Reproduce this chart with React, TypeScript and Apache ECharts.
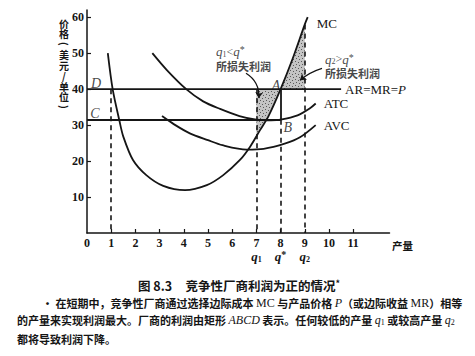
import React, { useEffect, useRef } from 'react';
import * as echarts from 'echarts';

// ---- data ----
const xTickValues = [1, 2, 3, 4, 5, 6, 7, 8, 9, 10, 11];
const xLabelValues = [0, 1, 2, 3, 4, 5, 6, 7, 8, 9, 10, 11];
const yTickValues = [10, 20, 30, 40, 50, 60];

const mcQ = [0.86, 1.06, 1.34, 1.5, 1.9, 2.45, 3.15, 4.05, 4.95, 5.63, 6.32, 6.74, 7.15, 7.5, 8, 8.5, 9, 9.12];
const mcV = [50, 40, 31.2, 26.8, 20.3, 16.1, 13.1, 11.9, 13.3, 16.1, 20.3, 24, 28.6, 32.5, 40, 48.5, 58, 60];
const atcQ = [2.7, 3.3, 4.1, 4.8, 5.5, 6.3, 7.0, 7.6, 8.0, 8.7, 9.2, 9.45];
const atcV = [50, 45.3, 40, 36.6, 34.5, 32.5, 31.5, 31.3, 31.5, 32.7, 34.6, 36];
const avcQ = [3.1, 3.6, 4.25, 5, 5.6, 6.6, 7.3, 8.2, 8.8, 9.45];
const avcV = [32.5, 30.2, 27.7, 25.8, 24.4, 23.2, 23.4, 24.9, 26.6, 30];

const price = 40; // AR = MR = P  (line D-A)
const costAtQStar = 31.5; // ATC at q*  (line C-B)
const qStar = 8;
const q1 = 7;
const q2 = 9;
const qLow = 1;
const priceLineEnd = 10.5;
const lossLeft = [[7, 40], [7, 27], [7.15, 28.6], [7.5, 32.5], [8, 40]];
const lossRight = [[8, 40], [8.5, 48.5], [9, 58], [9, 40]];

const titleText = '{b|图 8.3}    {b|竞争性厂商利润为正的情况}{sup|*}';
const captionLines = [
  '• 在短期中，竞争性厂商通过选择边际成本 {lat|MC} 与产品价格 {it|P}（或边际收益 {lat|MR}）相等',
  '的产量来实现利润最大。厂商的利润由矩形 {it|ABCD} 表示。任何较低的产量 {it|q}{sub|1} 或较高产量 {it|q}{sub|2}',
  '都将导致利润下降。',
];
const yAxisTitle = ['价', '格', '(', '美', '元', '/', '单', '位', ')'];

const SERIF = '"Liberation Serif", "Times New Roman", serif';
const CJK = '"Noto Sans CJK SC", sans-serif';
const INK = '#151515';

function makeStipple(): any {
  const c = document.createElement('canvas');
  c.width = 6;
  c.height = 6;
  const g = c.getContext('2d');
  if (!g) return '#aaaaaa';
  g.fillStyle = '#c4c4c4';
  g.fillRect(0, 0, 6, 6);
  g.fillStyle = '#5a5a5a';
  g.fillRect(1, 1, 1, 1);
  g.fillRect(4, 2, 1, 1);
  g.fillRect(2, 4, 1, 1);
  g.fillRect(5, 5, 1, 1);
  return { image: c, repeat: 'repeat' };
}

export default function App() {
  const ref = useRef<HTMLDivElement>(null);
  useEffect(() => {
    if (!ref.current) return;
    const chart = echarts.init(ref.current, null, { renderer: 'svg' });
    const stipple = makeStipple();
    const shades = [lossLeft, lossRight];
    const curveLine = { color: INK, width: 1.8 };
    const curveLabel = { fontFamily: SERIF, fontSize: 13, color: INK };

    const annoRich = {
      q: { fontFamily: SERIF, fontStyle: 'italic', fontSize: 13, color: INK, lineHeight: 14 },
      s: { fontFamily: SERIF, fontStyle: 'normal', fontSize: 8, color: INK, padding: [5, 0, 0, 0], lineHeight: 14 },
      t: { fontFamily: SERIF, fontStyle: 'normal', fontSize: 12, color: INK, lineHeight: 14 },
      u: { fontFamily: SERIF, fontStyle: 'normal', fontSize: 10, color: INK, padding: [0, 0, 4, 0], lineHeight: 14 },
      c: { fontFamily: CJK, fontStyle: 'normal', fontWeight: 'bold', fontSize: 11, color: INK, lineHeight: 14 },
    };

    const option: any = {
      animation: false,
      backgroundColor: '#ffffff',
      grid: { left: 87, top: 10, width: 302.5, height: 223 },
      xAxis: {
        type: 'value',
        min: 0,
        max: 12.5,
        interval: 1,
        splitLine: { show: false },
        axisLine: { lineStyle: { color: INK, width: 1.5 } },
        axisTick: { inside: true, length: 4, customValues: xTickValues, lineStyle: { color: INK, width: 1.2 } },
        axisLabel: {
          customValues: xLabelValues,
          margin: 3,
          color: INK,
          fontFamily: SERIF,
          fontWeight: 'bold',
          fontSize: 12,
          lineHeight: 13,
          formatter: (v: number) => {
            if (v === q1) return v + '\n{q|q}{sub|1}';
            if (v === qStar) return v + '\n{q|q}{sup|*}';
            if (v === q2) return v + '\n{q|q}{sub|2}';
            return String(v);
          },
          rich: {
            q: { fontFamily: SERIF, fontStyle: 'italic', fontWeight: 'bold', fontSize: 13, lineHeight: 14, color: INK },
            sub: { fontFamily: SERIF, fontSize: 8, lineHeight: 14, verticalAlign: 'bottom', color: INK, padding: [6, 0, 0, 0] },
            sup: { fontFamily: SERIF, fontSize: 10, lineHeight: 14, verticalAlign: 'top', color: INK },
          },
        },
      },
      yAxis: {
        type: 'value',
        min: 0,
        max: 62,
        interval: 10,
        splitLine: { show: false },
        axisLine: { lineStyle: { color: INK, width: 1.5 } },
        axisTick: { inside: true, length: 4, customValues: yTickValues, lineStyle: { color: INK, width: 1.2 } },
        axisLabel: {
          customValues: yTickValues,
          margin: 3,
          color: INK,
          fontFamily: SERIF,
          fontWeight: 'bold',
          fontSize: 12,
        },
      },
      series: [
        {
          type: 'custom',
          coordinateSystem: 'cartesian2d',
          z: 1,
          data: shades.map((s) => s[0]),
          renderItem: (params: any, api: any) => {
            const poly = shades[params.dataIndex];
            return {
              type: 'polygon',
              shape: { points: poly.map((p) => api.coord(p)) },
              style: { fill: stipple, stroke: null },
            };
          },
        },
        {
          type: 'line',
          name: 'MC',
          z: 5,
          data: mcQ.map((q, i) => [q, mcV[i]]),
          smooth: 0.3,
          symbol: 'none',
          lineStyle: curveLine,
          endLabel: { show: true, formatter: 'MC', offset: [1, 6], ...curveLabel },
        },
        {
          type: 'line',
          name: 'ATC',
          z: 5,
          data: atcQ.map((q, i) => [q, atcV[i]]),
          smooth: 0.3,
          symbol: 'none',
          lineStyle: curveLine,
          endLabel: { show: true, formatter: 'ATC', distance: 8, ...curveLabel },
        },
        {
          type: 'line',
          name: 'AVC',
          z: 5,
          data: avcQ.map((q, i) => [q, avcV[i]]),
          smooth: 0.3,
          symbol: 'none',
          lineStyle: curveLine,
          endLabel: { show: true, formatter: 'AVC', distance: 8, ...curveLabel },
        },
        {
          type: 'line',
          name: 'AR=MR=P',
          z: 5,
          data: [[0, price], [priceLineEnd, price]],
          symbol: 'none',
          lineStyle: curveLine,
          endLabel: {
            show: true,
            distance: 4,
            formatter: 'AR=MR={p|P}',
            ...curveLabel,
            rich: { p: { fontFamily: SERIF, fontStyle: 'italic', fontSize: 13, color: INK } },
          },
        },
        {
          type: 'lines',
          coordinateSystem: 'cartesian2d',
          z: 5,
          polyline: false,
          lineStyle: { color: INK, width: 1.8, opacity: 1 },
          data: [
            { coords: [[0, costAtQStar], [qStar, costAtQStar]] },
            { coords: [[qStar, price], [qStar, costAtQStar]] },
          ],
        },
        {
          type: 'lines',
          coordinateSystem: 'cartesian2d',
          z: 4,
          polyline: false,
          lineStyle: { color: INK, width: 1.6, type: [5, 4], opacity: 1 },
          data: [
            { coords: [[qLow, price], [qLow, 0]] },
            { coords: [[q1, price], [q1, 0]] },
            { coords: [[qStar, costAtQStar], [qStar, 0]] },
            { coords: [[q2, 58], [q2, 0]] },
          ],
        },
        {
          type: 'lines',
          coordinateSystem: 'cartesian2d',
          z: 6,
          polyline: false,
          symbol: ['none', 'arrow'],
          symbolSize: 6,
          data: [
            { coords: [[6.57, 44.4], [7.1, 37.5]], lineStyle: { curveness: 0.3 } },
            { coords: [[9.71, 45.8], [8.8, 42.5]], lineStyle: { curveness: -0.1 } },
          ],
          lineStyle: { color: INK, width: 1.3, opacity: 1 },
        },
        {
          type: 'scatter',
          z: 7,
          symbolSize: 0,
          clip: false,
          silent: true,
          label: {
            show: true,
            position: 'inside',
            color: INK,
            fontFamily: SERIF,
            fontStyle: 'italic',
            fontSize: 14,
          },
          data: [
            { value: [0.37, 41.7], label: { formatter: 'D' } },
            { value: [0.33, 33.3], label: { formatter: 'C' } },
            { value: [7.81, 41.1], label: { formatter: 'A' } },
            { value: [8.3, 29.4], label: { formatter: 'B' } },
            {
              value: [5.33, 48.4],
              label: {
                align: 'left',
                fontStyle: 'normal',
                formatter: '{q|q}{s|1}{t|<}{q|q}{u|*}\n{c|所损失利润}',
                rich: annoRich,
              },
            },
            {
              value: [9.83, 46.3],
              label: {
                align: 'left',
                fontStyle: 'normal',
                formatter: '{q|q}{s|2}{t|>}{q|q}{u|*}\n{c|所损失利润}',
                rich: annoRich,
              },
            },
          ],
        },
      ],
      graphic: [
        ...yAxisTitle.map((ch, i) => {
          const isParen = ch === '(' || ch === ')';
          return {
            type: 'text',
            x: 64,
            y: 23 + i * 10.5,
            rotation: isParen ? -Math.PI / 2 : 0,
            style: {
              text: ch,
              font: 'bold 10px ' + CJK,
              lineHeight: 10,
              fill: INK,
              align: 'center',
              verticalAlign: 'middle',
            },
          };
        }),
        {
          type: 'text',
          x: 392,
          y: 245,
          style: { text: '产量', font: 'bold 10.5px ' + CJK, fill: INK, verticalAlign: 'middle' },
        },
        {
          type: 'text',
          x: 138,
          y: 285,
          style: {
            text: titleText,
            fill: INK,
            verticalAlign: 'middle',
            rich: {
              b: { font: 'bold 12.5px ' + CJK, fill: INK },
              sup: { font: 'bold 9px ' + CJK, fill: INK, verticalAlign: 'top' },
            },
          },
        },
        ...captionLines.map((line, i) => ({
          type: 'text',
          x: i === 0 ? 42 : 17,
          y: [303, 320, 339][i],
          style: {
            text: line,
            font: 'bold 11px ' + CJK,
            fill: INK,
            verticalAlign: 'middle',
            rich: {
              lat: { font: '12px ' + SERIF, fill: INK },
              it: { font: 'italic 12px ' + SERIF, fill: INK },
              sub: { font: '8px ' + SERIF, fill: INK, padding: [5, 0, 0, 0] },
            },
          },
        })),
      ],
    };

    chart.setOption(option);
    return () => chart.dispose();
  }, []);

  return (
    <div
      ref={ref}
      style={{ position: 'absolute', left: 0, top: 0, width: 475, height: 356, background: '#fff' }}
    />
  );
}
